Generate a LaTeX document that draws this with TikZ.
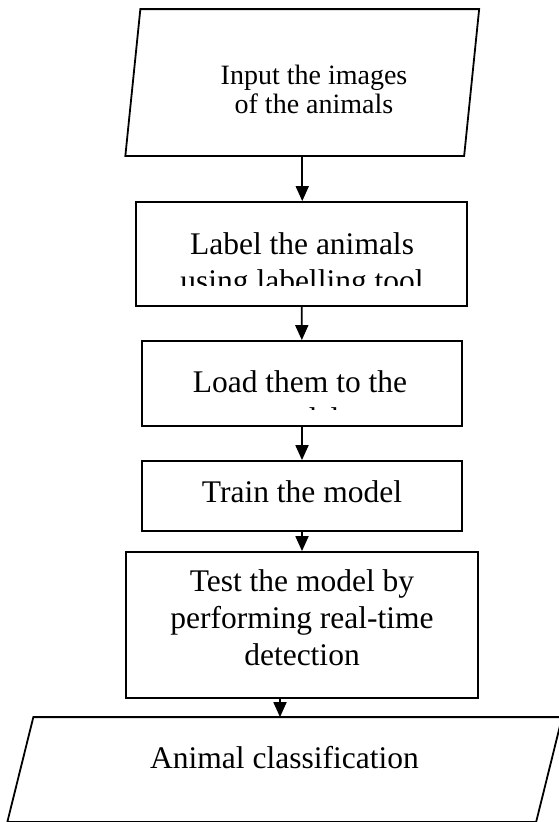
\documentclass[tikz,border=0pt]{standalone}
\usepackage{fontspec}
\setmainfont{Liberation Serif}
\usetikzlibrary{arrows.meta}
\begin{document}
\begin{tikzpicture}[x=1pt, y=-1pt, line width=1.8pt, >={Triangle[length=15pt,width=13pt]},
    box/.style={draw, rectangle, inner sep=0pt},
    txt/.style={align=center, anchor=base, inner sep=0pt, font=\fontsize{31.5}{37}\selectfont}]

  \useasboundingbox (0,0) rectangle (558,822);

  % Nodes
  \node[inner sep=0pt, minimum width=337pt, minimum height=145pt] (input) at (302.25,82.5) {};
  \node[box, minimum width=331pt, minimum height=104pt] (label) at (301.5,254) {};
  \node[box, minimum width=320pt, minimum height=85pt] (load) at (302,383.5) {};
  \node[box, minimum width=320pt, minimum height=70pt] (train) at (302,496) {};
  \node[box, minimum width=352pt, minimum height=146pt] (test) at (302,625) {};
  \node[inner sep=0pt, minimum width=527pt, minimum height=103pt] (out) at (284.75,769.5) {};

  % Parallelograms
  \draw ([xshift=7.5pt]input.north west) -- ([xshift=7.5pt]input.north east)
     -- ([xshift=-7.5pt]input.south east) -- ([xshift=-7.5pt]input.south west) -- cycle;
  \draw ([xshift=13pt]out.north west) -- ([xshift=13pt]out.north east)
     -- ([xshift=-13pt]out.south east) -- ([xshift=-13pt]out.south west) -- cycle;

  % Texts (base = last line)
  \node[txt, font=\fontsize{28}{29}\selectfont] (input-txt) at (314,113) {Input the images\\of the animals};
  \begin{scope}
    \clip (136,202) rectangle (467,285.5);
    \node[txt] (label-txt) at (302,291) {Label the animals\\using labelling tool};
  \end{scope}
  \begin{scope}
    \clip (142,341) rectangle (462,409);
    \node[txt] (load-txt) at (300,429) {Load them to the\\model};
  \end{scope}
  \node[txt] (train-txt) at (302,502) {Train the model};
  \node[txt] (test-txt) at (302,665) {Test the model by\\performing real-time\\detection};
  \node[txt] (out-txt) at (284.5,768) {Animal classification};

  % Arrows
  \draw[->] (input.south) -- (input.south |- label.north);
  \draw[->] (label) -- (load);
  \draw[->] (load) -- (train);
  \draw[->] (train) -- (test);
  \draw[->] ([xshift=-22pt]test.south) -- ([xshift=-22pt]test.south |- out.north);

\end{tikzpicture}
\end{document}
